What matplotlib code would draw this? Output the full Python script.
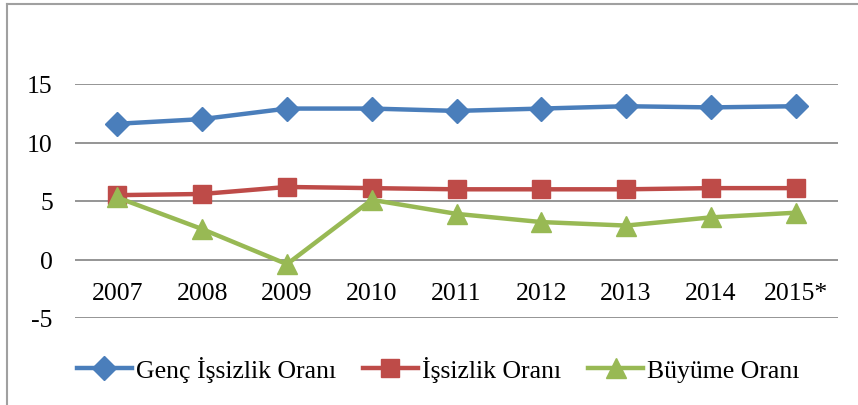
import matplotlib
matplotlib.use("Agg")
import matplotlib.pyplot as plt
from matplotlib.lines import Line2D

years = ["2007", "2008", "2009", "2010", "2011", "2012", "2013", "2014", "2015*"]
genc_issizlik = [11.6, 12.0, 12.9, 12.9, 12.7, 12.9, 13.1, 13.0, 13.1]
issizlik = [5.5, 5.6, 6.2, 6.1, 6.0, 6.0, 6.0, 6.1, 6.1]
buyume = [5.3, 2.6, -0.4, 5.1, 3.9, 3.2, 2.9, 3.6, 4.0]
yticks = [-5, 0, 5, 10, 15]

plt.rcParams['font.family'] = ['Liberation Serif', 'DejaVu Serif']
FS = 18.5

W, H = 858, 406
fig = plt.figure(figsize=(W / 100, H / 100), dpi=100)
ax = fig.add_axes([75 / W, 1 - 319 / H, 763 / W, 234 / H])

x = list(range(len(years)))
ax.plot(x, genc_issizlik, color='#4A7EBB', lw=3.2, marker='D', ms=12.5,
        label='Genç İşsizlik Oranı', clip_on=False, zorder=3)
ax.plot(x, issizlik, color='#BE4B48', lw=3.2, marker='s', ms=13,
        label='İşsizlik Oranı', clip_on=False, zorder=3)
ax.plot(x, buyume, color='#98B954', lw=3.2, marker='^', ms=14,
        label='Büyüme Oranı', clip_on=False, zorder=4)

ax.set_xlim(-0.5, len(years) - 0.5)
ax.set_ylim(-5, 15)
ax.set_yticks(yticks)
ax.set_yticklabels([str(v) for v in yticks])
ax.set_xticks(x)
ax.set_xticklabels(years)
ax.yaxis.grid(True, color='#8C8C8C', lw=1.3)
ax.set_axisbelow(True)
for s in ax.spines.values():
    s.set_visible(False)
ax.spines['bottom'].set_position(('data', 0))
ax.tick_params(axis='x', length=0, pad=16, labelsize=FS)
ax.tick_params(axis='y', length=0, pad=16, labelsize=FS)

fig.legend(loc='center', bbox_to_anchor=(438 / W, 1 - 370 / H), ncol=3,
           frameon=False, fontsize=FS, handlelength=2.15, handletextpad=0.15,
           columnspacing=1.05)

fig.add_artist(Line2D([7 / W, 1], [1 - 5 / H, 1 - 5 / H], color='#A0A0A0', lw=1.5,
                      transform=fig.transFigure))
fig.add_artist(Line2D([7 / W, 7 / W], [0, 1 - 5 / H], color='#A0A0A0', lw=1.5,
                      transform=fig.transFigure))

fig.savefig('out.png', dpi=100)
